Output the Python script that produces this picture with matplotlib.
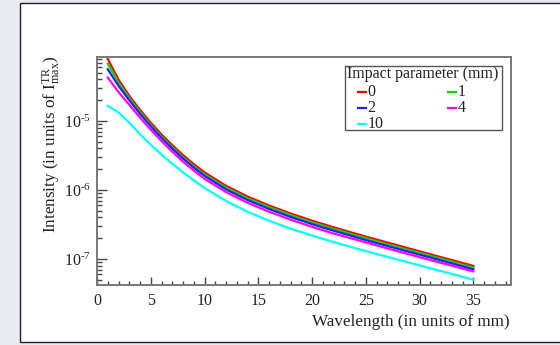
import matplotlib
matplotlib.use("Agg")
import matplotlib.pyplot as plt
from matplotlib.patches import Rectangle
from matplotlib.lines import Line2D
from matplotlib.ticker import LogLocator, MultipleLocator, NullFormatter, FuncFormatter
import numpy as np

# wavelength (mm) and intensity for each impact parameter
wavelength = [1, 2, 3, 4, 5, 6, 7, 8, 9, 10, 12, 14, 16, 18, 20, 22, 25, 28, 31, 35]
b_labels = ["0", "1", "2", "4", "10"]

I_b0 = [7.94e-5, 3.98e-5, 2.32e-5, 1.45e-5, 9.44e-6, 6.38e-6, 4.47e-6, 3.20e-6, 2.37e-6, 1.80e-6,
        1.15e-6, 8.04e-7, 5.96e-7, 4.57e-7, 3.59e-7, 2.88e-7, 2.11e-7, 1.57e-7, 1.17e-7, 7.94e-8]
I_b1 = [6.76e-5, 3.59e-5, 2.14e-5, 1.35e-5, 8.81e-6, 5.96e-6, 4.17e-6, 2.99e-6, 2.21e-6, 1.68e-6,
        1.08e-6, 7.59e-7, 5.62e-7, 4.32e-7, 3.39e-7, 2.72e-7, 2.00e-7, 1.48e-7, 1.11e-7, 7.50e-8]
I_b2 = [5.62e-5, 3.24e-5, 2.00e-5, 1.27e-5, 8.41e-6, 5.69e-6, 3.98e-6, 2.85e-6, 2.11e-6, 1.60e-6,
        1.02e-6, 7.16e-7, 5.31e-7, 4.07e-7, 3.20e-7, 2.57e-7, 1.88e-7, 1.40e-7, 1.05e-7, 7.08e-8]
I_b4 = [4.27e-5, 2.63e-5, 1.72e-5, 1.12e-5, 7.50e-6, 5.13e-6, 3.59e-6, 2.57e-6, 1.91e-6, 1.45e-6,
        9.33e-7, 6.53e-7, 4.84e-7, 3.72e-7, 2.92e-7, 2.34e-7, 1.74e-7, 1.29e-7, 9.66e-8, 6.61e-8]
I_b10 = [1.66e-5, 1.33e-5, 9.44e-6, 6.46e-6, 4.52e-6, 3.27e-6, 2.40e-6, 1.80e-6, 1.38e-6, 1.07e-6,
         6.92e-7, 4.84e-7, 3.59e-7, 2.75e-7, 2.19e-7, 1.76e-7, 1.30e-7, 9.77e-8, 7.33e-8, 5.01e-8]

colors = ["#ff0000", "#00dd00", "#2222ff", "#ff00ff", "#00ffff"]

plt.rcParams["font.family"] = ["Liberation Serif", "DejaVu Serif"]
plt.rcParams["mathtext.fontset"] = "custom"
plt.rcParams["mathtext.rm"] = "Liberation Serif"
plt.rcParams["mathtext.it"] = "Liberation Serif:italic"

W, H = 560.0, 345.0
fig = plt.figure(figsize=(W / 100, H / 100), dpi=100)
fig.patch.set_facecolor("#e8eaf0")

# white page with a thin border, kept behind the axes
page = Rectangle((20 / W, 3 / H), 1.0, 339 / H, transform=fig.transFigure,
                 facecolor="white", edgecolor="#222222", linewidth=1.0, zorder=-5)
fig.patches.append(page)

ax = fig.add_axes([97 / W, 1 - 285 / H, (510.5 - 97) / W, (285 - 57) / H])
ax.set_facecolor("white")

series = [I_b0, I_b1, I_b2, I_b4, I_b10]
for vals, c in zip(series, colors):
    ax.plot(wavelength, vals, color=c, lw=1.6, solid_joinstyle="round")

ax.set_yscale("log")
ax.set_xlim(0, 38.45)
ax.set_ylim(10 ** -7.377, 10 ** -4.072)

ax.xaxis.set_major_locator(MultipleLocator(5))
ax.xaxis.set_minor_locator(MultipleLocator(1))
ax.yaxis.set_major_locator(LogLocator(base=10, numticks=10))
ax.yaxis.set_minor_locator(LogLocator(base=10, subs=np.arange(2, 10), numticks=20))
ax.yaxis.set_minor_formatter(NullFormatter())
ax.yaxis.set_major_formatter(FuncFormatter(
    lambda v, p: r"$\mathregular{10^{\text{-}%d}}$" % int(round(-np.log10(v)))))

for s in ax.spines.values():
    s.set_color("#777777")
    s.set_linewidth(1.4)
ax.tick_params(which="both", direction="in", top=False, right=False, colors="#444444",
               labelcolor="#222222", labelsize=11.5, width=1)
ax.tick_params(axis="x", which="major", length=5.5, pad=6)
ax.tick_params(axis="x", which="minor", length=2.7)
ax.tick_params(axis="y", which="major", length=7.5, pad=4)
ax.tick_params(axis="y", which="minor", length=3.8)

# axis titles aligned to the end of each axis
fig.text(510 / W, 1 - 322 / H, "Wavelength (in units of mm)", fontsize=12.3,
         color="#222222", ha="right", va="center")
fig.text(51 / W, 1 - 55 / H, r"Intensity (in units of $\mathregular{I^{TR}_{max}}$)",
         fontsize=12.3, color="#222222", rotation=90, ha="center", va="top")

# legend box: title row, then entries (0, 1), (2, 4), (10)
def ax_xy(px, py):
    return (px - 97) / 413.5, (285 - py) / 228.0

x0, y0 = ax_xy(345, 130)
x1, y1 = ax_xy(502, 66)
ax.add_patch(Rectangle((x0, y0), x1 - x0, y1 - y0, transform=ax.transAxes,
                       facecolor="white", edgecolor="#555555", lw=1.0, zorder=5))
tx, ty = ax_xy(347, 74)
ax.text(tx, ty, "Impact parameter (mm)", transform=ax.transAxes, fontsize=11.5,
        color="#222222", ha="left", va="center", zorder=6)

slots = [(358, 92), (448, 92), (358, 108), (448, 108), (358, 124)]
for (px, py), c, lab in zip(slots, colors, b_labels):
    lx0, ly = ax_xy(px, py)
    lx1, _ = ax_xy(px + 7.5, py)
    ax.add_line(Line2D([lx0, lx1], [ly, ly], transform=ax.transAxes, color=c, lw=1.6,
                       zorder=6))
    tx, _ = ax_xy(px + 9.5, py)
    ax.text(tx, ly, lab, transform=ax.transAxes, fontsize=11.5, color="#222222",
            ha="left", va="center", zorder=6)

fig.savefig("out.png", dpi=100)
